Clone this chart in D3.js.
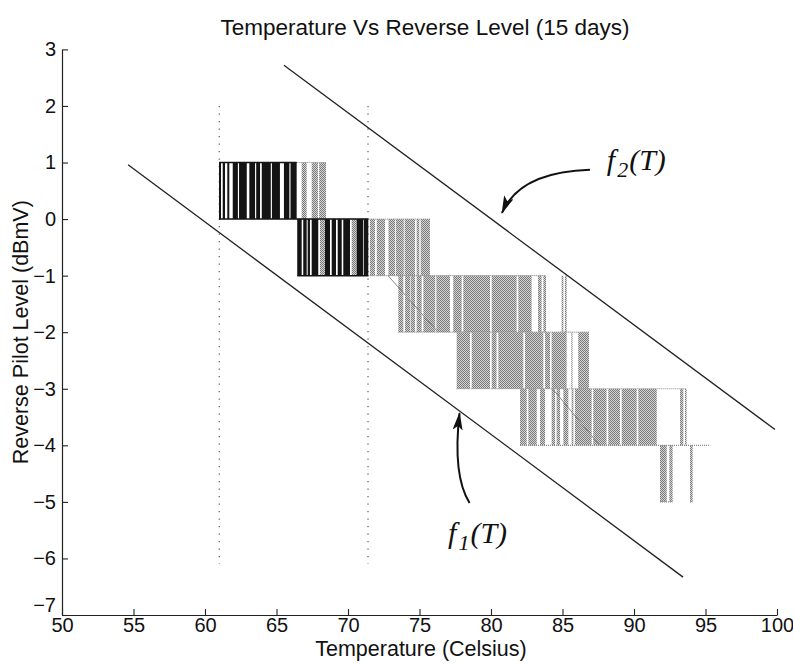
<!DOCTYPE html>
<html>
<head>
<meta charset="utf-8">
<script src="https://cdn.jsdelivr.net/npm/d3@7"></script>
<style>
  body { margin: 0; background: #fff; }
  svg { display: block; }
  .tick text { font-family: "Liberation Sans", Arial, sans-serif; font-size: 20px; fill: #111; }
</style>
</head>
<body>
<svg id="chart" width="793" height="664"></svg>
<script>
// Axis ticks
const xTicks = [50, 55, 60, 65, 70, 75, 80, 85, 90, 95, 100];
const yTicks = [3, 2, 1, 0, -1, -2, -3, -4, -5, -6, -7];

// Dense switching spans, [T start, T end] in Celsius, grouped by the pair of
// levels the pilot toggled between (upper level named).
const darkLevel1 = [[60.98, 61.12], [61.24, 61.40], [61.56, 61.70], [61.94, 62.30], [62.38, 62.92],
                    [63.10, 63.50], [63.58, 63.85], [63.97, 64.60], [64.68, 65.24], [65.52, 65.90], [65.98, 66.41]];
const grayLevel1 = [[66.76, 67.11], [67.46, 67.90], [67.98, 68.46]];

const darkLevel0 = [[66.45, 66.76], [66.87, 67.11], [67.18, 67.34], [67.46, 67.92], [68.39, 68.74],
                    [68.86, 69.16], [69.28, 69.56], [69.67, 70.14], [70.61, 71.07], [71.12, 71.42]];
const grayLevel0 = [[68.04, 68.39], [70.26, 70.61], [71.54, 71.89], [72.01, 72.59], [72.83, 73.30],
                    [73.36, 73.90], [73.96, 74.69], [74.80, 74.99], [75.08, 75.73]];

const grayLevelM1 = [[73.52, 73.87], [73.99, 74.34], [74.38, 74.69], [74.80, 75.15], [75.27, 76.10],
                     [76.18, 77.13], [77.36, 77.95], [78.06, 79.93], [80.05, 81.79], [81.91, 82.84],
                     [83.29, 83.54], [83.66, 83.85], [84.94, 85.06], [85.17, 85.29]];

const grayLevelM2 = [[77.60, 78.53], [78.65, 79.93], [80.05, 80.39], [80.51, 82.26], [82.38, 83.66],
                     [83.78, 84.13], [84.24, 85.29], [85.62, 85.70], [86.10, 86.85]];

const grayLevelM3 = [[82.03, 82.50], [82.61, 83.20], [83.43, 83.78], [84.24, 84.48], [84.59, 84.83],
                     [85.06, 85.41], [85.64, 85.76], [85.87, 87.04], [87.15, 88.08], [88.20, 89.02],
                     [89.14, 90.19], [90.30, 91.59], [93.22, 93.45], [93.57, 93.68]];

const grayLevelM4 = [[91.82, 92.29], [92.47, 92.70], [93.92, 94.10]];

// Steady runs along one level: [level, T start, T end]
const darkRuns = [[1, 60.98, 66.41], [0, 60.98, 71.42], [-1, 66.45, 71.42]];
const grayRuns = [[1, 66.41, 68.46], [0, 66.41, 75.73], [-1, 71.42, 83.85],
                  [-2, 73.52, 86.85], [-3, 77.60, 93.68], [-4, 82.03, 95.33],
                  [-5, 91.82, 92.70], [-5, 93.92, 94.10]];

// Single level changes made while the temperature drifted: [T0, L0, T1, L1]
const driftSteps = [[72.8, -1, 76.3, -2], [84.3, -3, 87.6, -4]];

// Bounding lines f1(T), f2(T): end points [T, level]
const f1Ends = [[54.62, 0.96], [93.43, -6.33]];
const f2Ends = [[65.52, 2.72], [99.86, -3.72]];

// Dotted reference temperatures and their vertical extent
const markerTemps = [61.0, 71.4];
const markerLevels = [2, -6.1];

const svg = d3.select("#chart");
const x = d3.scaleLinear().domain([50, 100]).range([62, 777]);
const y = d3.scaleLinear().domain([-7, 3]).range([615, 49.4]);

// halftone fill for the grey trace
const defs = svg.append("defs");
const pat = defs.append("pattern").attr("id", "halftone")
  .attr("width", 2).attr("height", 2).attr("patternUnits", "userSpaceOnUse");
pat.append("rect").attr("width", 2).attr("height", 2).attr("fill", "#d4d4d4");
pat.append("rect").attr("x", 0).attr("y", 0).attr("width", 1).attr("height", 1).attr("fill", "#7a7a7a");
pat.append("rect").attr("x", 1).attr("y", 1).attr("width", 1).attr("height", 1).attr("fill", "#7a7a7a");

defs.append("marker").attr("id", "arrowhead")
  .attr("viewBox", "0 0 18 10").attr("refX", 17).attr("refY", 5)
  .attr("markerWidth", 18).attr("markerHeight", 10)
  .attr("markerUnits", "userSpaceOnUse").attr("orient", "auto")
  .append("path").attr("d", "M0,0 L18,5 L0,10 L4,5 Z").attr("fill", "#111");

// dotted markers
svg.append("g").selectAll("line").data(markerTemps).join("line")
  .attr("x1", d => x(d)).attr("x2", d => x(d))
  .attr("y1", y(markerLevels[0])).attr("y2", y(markerLevels[1]))
  .attr("stroke", "#666").attr("stroke-width", 1.3)
  .attr("stroke-dasharray", "1.3,6.2");

// trace
const trace = svg.append("g");
function drawSpans(spans, upper, fill) {
  trace.append("g").selectAll("rect").data(spans).join("rect")
    .attr("x", d => x(d[0]))
    .attr("width", d => Math.max(0.8, x(d[1]) - x(d[0])))
    .attr("y", y(upper))
    .attr("height", y(upper - 1) - y(upper))
    .attr("fill", fill);
}
drawSpans(grayLevel1, 1, "url(#halftone)");
drawSpans(grayLevel0, 0, "url(#halftone)");
drawSpans(grayLevelM1, -1, "url(#halftone)");
drawSpans(grayLevelM2, -2, "url(#halftone)");
drawSpans(grayLevelM3, -3, "url(#halftone)");
drawSpans(grayLevelM4, -4, "url(#halftone)");

trace.append("g").selectAll("line").data(driftSteps).join("line")
  .attr("x1", d => x(d[0])).attr("y1", d => y(d[1]))
  .attr("x2", d => x(d[2])).attr("y2", d => y(d[3]))
  .attr("stroke", "#8a8a8a").attr("stroke-width", 1);

trace.append("g").selectAll("line").data(grayRuns).join("line")
  .attr("x1", d => x(d[1])).attr("x2", d => x(d[2]))
  .attr("y1", d => y(d[0])).attr("y2", d => y(d[0]))
  .attr("stroke", "#8a8a8a").attr("stroke-width", 1.2).attr("stroke-dasharray", "1,1");

drawSpans(darkLevel1, 1, "#141414");
drawSpans(darkLevel0, 0, "#141414");
trace.append("g").selectAll("line").data(darkRuns).join("line")
  .attr("x1", d => x(d[1])).attr("x2", d => x(d[2]))
  .attr("y1", d => y(d[0])).attr("y2", d => y(d[0]))
  .attr("stroke", "#141414").attr("stroke-width", 1.5);

// bounding lines
const line = d3.line().x(d => x(d[0])).y(d => y(d[1]));
[f1Ends, f2Ends].forEach(pts => {
  svg.append("path").attr("d", line(pts))
    .attr("fill", "none").attr("stroke", "#222").attr("stroke-width", 1.3);
});

// axes
const gx = svg.append("g").attr("transform", `translate(0,${y(-7)})`)
  .call(d3.axisBottom(x).tickValues(xTicks).tickSizeInner(-6).tickSizeOuter(0).tickPadding(3)
        .tickFormat(d3.format("d")));
const gy = svg.append("g").attr("transform", `translate(${x(50)},0)`)
  .call(d3.axisLeft(y).tickValues(yTicks).tickSizeInner(-6).tickSizeOuter(0).tickPadding(6)
        .tickFormat(d => d < 0 ? "\u2212" + Math.abs(d) : String(d)));
[gx, gy].forEach(g => {
  g.select(".domain").attr("stroke", "#222").attr("stroke-width", 1.2);
  g.selectAll(".tick line").attr("stroke", "#222").attr("stroke-width", 1.1);
});
gx.selectAll(".tick text").attr("dy", "0.72em");
gy.selectAll(".tick text").filter(d => d === -7).attr("dy", "-0.2em");

// titles
const sans = "'Liberation Sans', Arial, sans-serif";
svg.append("text").attr("x", 425).attr("y", 35).attr("text-anchor", "middle")
  .attr("font-family", sans).attr("font-size", 22.5).attr("fill", "#111")
  .text("Temperature Vs Reverse Level (15 days)");
svg.append("text").attr("x", 421).attr("y", 656).attr("text-anchor", "middle")
  .attr("font-family", sans).attr("font-size", 21.5).attr("fill", "#111")
  .text("Temperature (Celsius)");
svg.append("text").attr("transform", `translate(28,${y(-2)}) rotate(-90)`)
  .attr("text-anchor", "middle")
  .attr("font-family", sans).attr("font-size", 21.5).attr("fill", "#111")
  .text("Reverse Pilot Level (dBmV)");

// annotations
const serif = "'Liberation Serif', 'Times New Roman', serif";
function label(tx, ty, sub) {
  const t = svg.append("text").attr("x", tx).attr("y", ty)
    .attr("font-family", serif).attr("font-style", "italic").attr("font-size", 30).attr("fill", "#111");
  t.append("tspan").text("f");
  t.append("tspan").attr("font-size", 22).attr("dy", 7).attr("dx", 2).text(sub);
  t.append("tspan").attr("dy", -7).attr("dx", 1).text("(T)");
}
label(x(88.1), y(0.86), "2");
label(x(77.0), y(-5.72), "1");

const curve = (p0, c, p1) => `M${x(p0[0])},${y(p0[1])} Q${x(c[0])},${y(c[1])} ${x(p1[0])},${y(p1[1])}`;
svg.append("path").attr("d", curve([86.92, 0.87], [82.0, 0.83], [80.77, 0.11]))
  .attr("fill", "none").attr("stroke", "#111").attr("stroke-width", 2)
  .attr("marker-end", "url(#arrowhead)");
svg.append("path").attr("d", curve([78.5, -5.02], [77.3, -4.53], [77.8, -3.43]))
  .attr("fill", "none").attr("stroke", "#111").attr("stroke-width", 2)
  .attr("marker-end", "url(#arrowhead)");
</script>
</body>
</html>
